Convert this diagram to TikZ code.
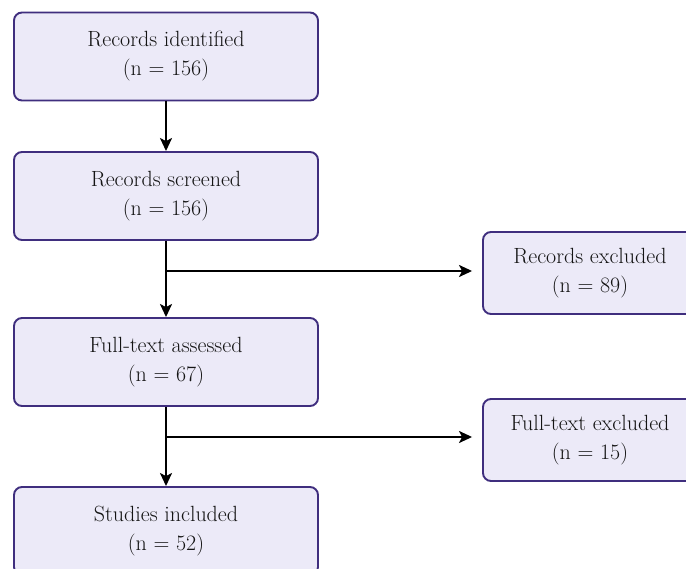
\documentclass[tikz,border=0pt]{standalone}
\usetikzlibrary{arrows.meta}
\definecolor{boxline}{HTML}{3F2E7E}
\definecolor{boxfill}{HTML}{ECEAF8}
\begin{document}
\begin{tikzpicture}[x=1pt,y=-1pt,
    stagebox/.style={draw=boxline,fill=boxfill,line width=1.9pt,rounded corners=8pt,
        minimum width=304pt,minimum height=88pt,align=center,text=black!92,
        font=\fontsize{22}{29}\selectfont},
    sidebox/.style={stagebox,minimum width=214pt,minimum height=82pt},
    flow/.style={line width=1.8pt,-{Stealth[length=13pt,width=12pt,inset=3pt]}}]
\useasboundingbox (0,0) rectangle (686,569);
\fill[white] (0,0) rectangle (686,569);

\node[stagebox] (ident) at (166,56.5) {Records identified\\(n = 156)};
\node[stagebox] (scrn) at (166,196) {Records screened\\(n = 156)};
\node[stagebox] (full) at (166,362) {Full-text assessed\\(n = 67)};
\node[stagebox] (incl) at (166,531) {Studies included\\(n = 52)};
\node[sidebox] (exRec) at (590,273) {Records excluded\\(n = 89)};
\node[sidebox] (exFull) at (590,440) {Full-text excluded\\(n = 15)};

\coordinate (brA) at (166,271);
\coordinate (brB) at (166,437);

\foreach \s/\t in {ident/scrn, scrn/full, full/incl}
{
    \draw[flow] (\s) -- (\t);
};
\draw[flow,shorten >=10pt] (brA) -- (brA -| exRec.west);
\draw[flow,shorten >=10pt] (brB) -- (brB -| exFull.west);
\end{tikzpicture}
\end{document}
